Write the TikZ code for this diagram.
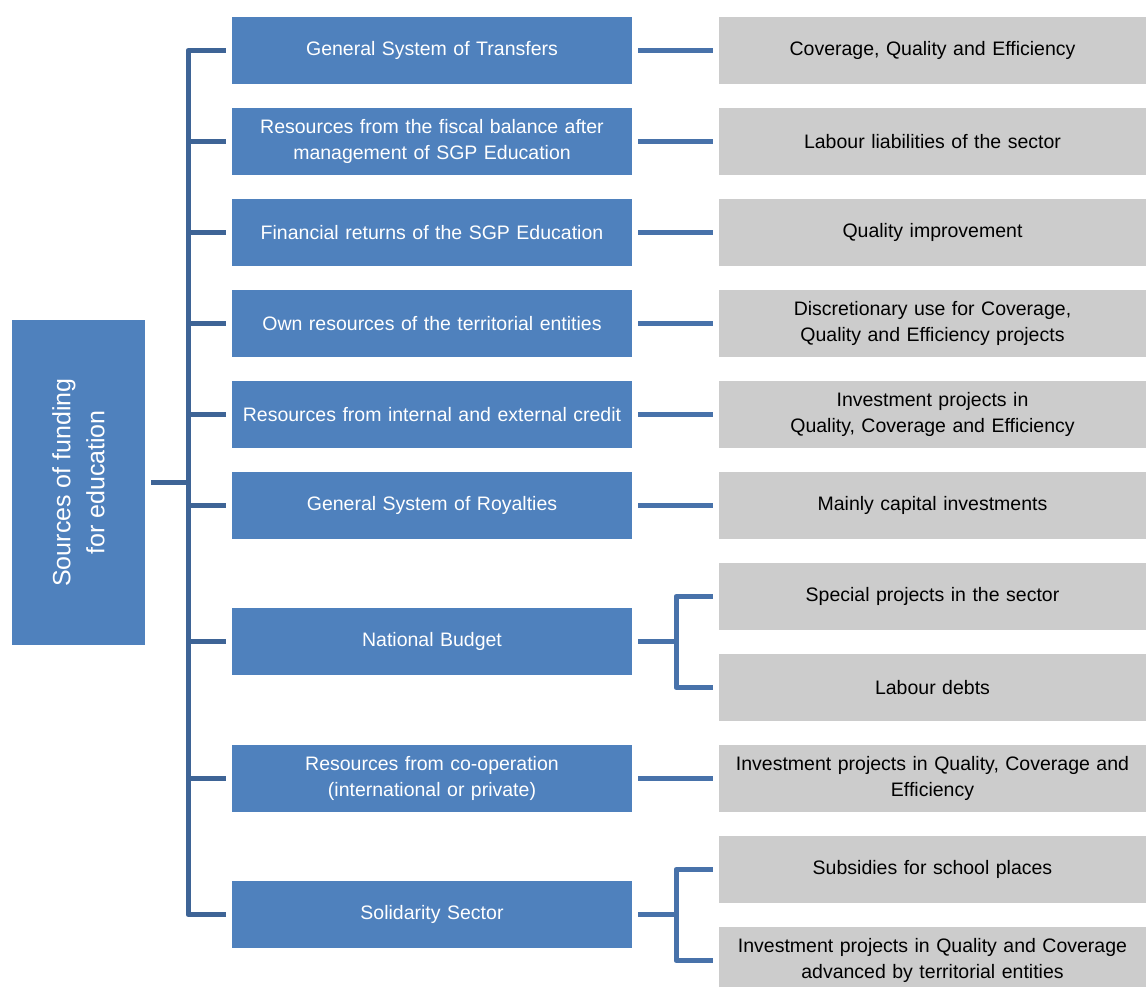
\documentclass[tikz,border=0pt]{standalone}
\usepackage{fontspec}
\setmainfont{Liberation Sans}
\definecolor{boxblue}{RGB}{79,129,189}
\definecolor{busblue}{RGB}{62,100,150}
\definecolor{linkblue}{RGB}{72,114,170}
\definecolor{boxgrey}{RGB}{204,204,204}
\begin{document}
\begin{tikzpicture}[x=1pt,y=-1pt,
  midbox/.style={fill=boxblue, text=white, minimum width=400pt, minimum height=67pt, inner sep=0pt, align=center, text width=390pt, font=\fontsize{19.5}{26.5}\selectfont},
  outbox/.style={fill=boxgrey, text=black, minimum width=427pt, minimum height=67pt, inner sep=0pt, align=center, text width=420pt, font=\fontsize{19.5}{26.5}\selectfont},
  rootbox/.style={fill=boxblue, text=white, minimum width=325pt, minimum height=133pt, inner sep=0pt, align=center, rotate=90, font=\fontsize{25}{34}\selectfont},
  bus/.style={draw=busblue, line width=5pt},
  link/.style={draw=linkblue, line width=5pt}]
\useasboundingbox (0,0) rectangle (1146,987);
\clip (0,0) rectangle (1146,987);

\node[rootbox] (root) at (78.5,482.5) {Sources of funding\\for education};

\node[midbox] (m1) at (432,50.5) {General System of Transfers};
\node[midbox] (m2) at (432,141.5) {Resources from the fiscal balance after\\management of SGP Education};
\node[midbox] (m3) at (432,232.5) {Financial returns of the SGP Education};
\node[midbox] (m4) at (432,323.5) {Own resources of the territorial entities};
\node[midbox] (m5) at (432,414.5) {Resources from internal and external credit};
\node[midbox] (m6) at (432,505.5) {General System of Royalties};
\node[midbox] (m7) at (432,641.5) {National Budget};
\node[midbox] (m8) at (432,778.5) {Resources from co-operation\\(international or private)};
\node[midbox] (m9) at (432,914.5) {Solidarity Sector};

\node[outbox] (r1) at (932.5,50.5) {Coverage, Quality and Efficiency};
\node[outbox] (r2) at (932.5,141.5) {Labour liabilities of the sector};
\node[outbox] (r3) at (932.5,232.5) {Quality improvement};
\node[outbox] (r4) at (932.5,323.5) {Discretionary use for Coverage,\\Quality and Efficiency projects};
\node[outbox] (r5) at (932.5,414.5) {Investment projects in\\Quality, Coverage and Efficiency};
\node[outbox] (r6) at (932.5,505.5) {Mainly capital investments};
\node[outbox] (r7a) at (932.5,596.5) {Special projects in the sector};
\node[outbox] (r7b) at (932.5,687.5) {Labour debts};
\node[outbox] (r8) at (932.5,778.5) {Investment projects in Quality, Coverage and\\Efficiency};
\node[outbox] (r9a) at (932.5,869.5) {Subsidies for school places};
\node[outbox] (r9b) at (932.5,960.5) {Investment projects in Quality and Coverage\\advanced by territorial entities};

% bus on the left
\coordinate (bx) at (188,0);
\coordinate (jx) at (676,0);
\draw[bus] ([xshift=6pt]root.south) -- (root.south -| bx);
\draw[bus, line join=round] ([xshift=-6pt]m1.west) -- (m1.west -| bx) -- (m9.west -| bx) -- ([xshift=-6pt]m9.west);
\foreach \i in {2,...,8} {
  \draw[bus] (m\i.west -| bx) -- ([xshift=-6pt]m\i.west);
}

% links to the right
\foreach \i in {1,...,6,8} {
  \draw[link] ([xshift=6pt]m\i.east) -- ([xshift=-6pt]r\i.west);
}
\draw[link] ([xshift=6pt]m7.east) -- (m7.east -| jx);
\draw[link, line join=round] ([xshift=-6pt]r7a.west) -- (r7a.west -| jx) -- (r7b.west -| jx) -- ([xshift=-6pt]r7b.west);
\draw[link] ([xshift=6pt]m9.east) -- (m9.east -| jx);
\draw[link, line join=round] ([xshift=-6pt]r9a.west) -- (r9a.west -| jx) -- (r9b.west -| jx) -- ([xshift=-6pt]r9b.west);
\end{tikzpicture}
\end{document}
